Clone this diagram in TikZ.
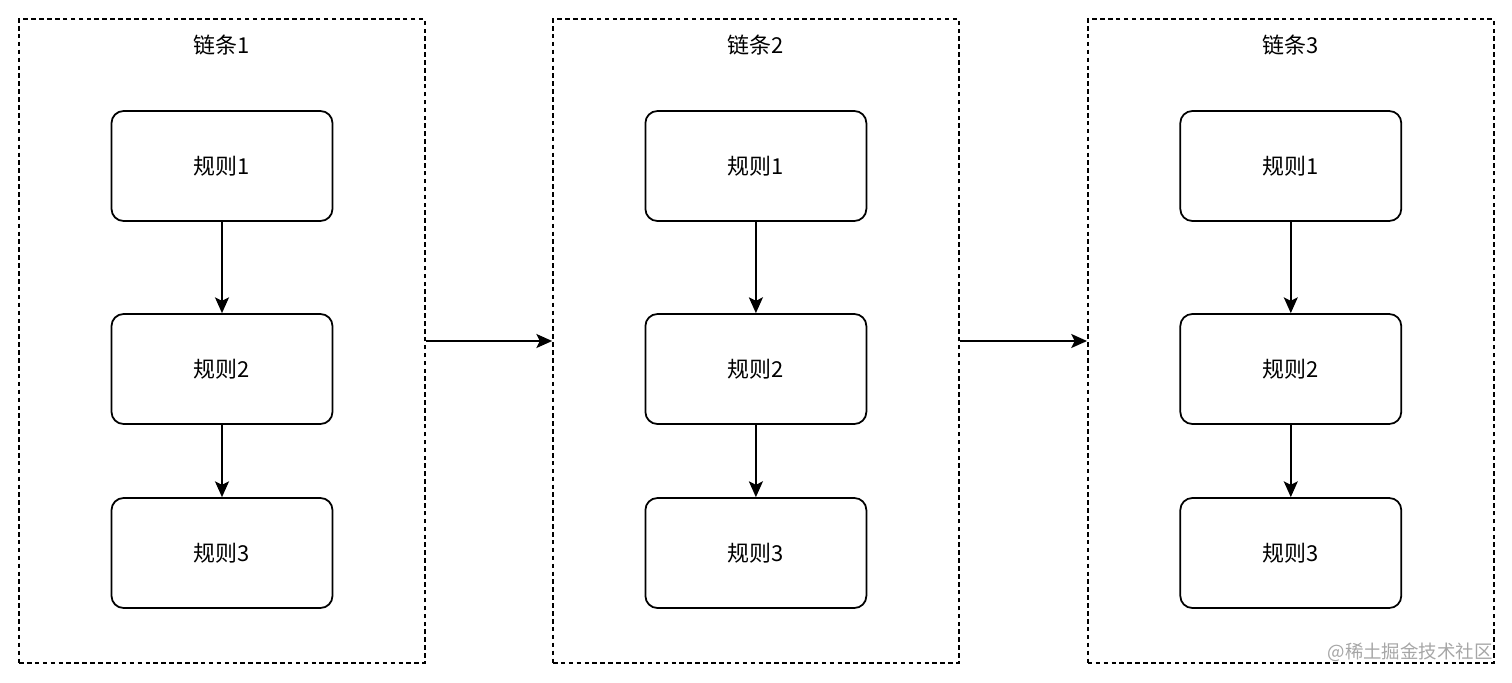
\documentclass[tikz,border=0pt]{standalone}
\usepackage{fontspec}
\setmainfont{Noto Sans CJK SC}
\usetikzlibrary{arrows.meta}

\tikzset{
    chain/.style={draw, line width=0.9pt, dash pattern=on 2.6pt off 1.9pt, minimum width=8.12cm, minimum height=12.88cm, inner sep=0pt},
    rulebox/.style={draw, line width=1pt, rounded corners=0.24cm, minimum width=4.42cm, minimum height=2.2cm, font=\fontsize{12.5}{15}\selectfont},
    title/.style={font=\fontsize{12.5}{15}\selectfont},
    link/.style={line width=0.9pt, -{Stealth[length=9pt, width=8pt, inset=2pt]}}
}

\begin{document}
\begin{tikzpicture}[x=0.02cm, y=-0.02cm]
    \useasboundingbox (0, 0) rectangle (1512, 683);

    % chain 1
    \begin{scope}
        \node[chain] (c1) at (222, 341) {};
        \node[title] (t1) at (222, 45) {链条1};
        \node[rulebox] (c1r1) at (222, 166) {规则1};
        \node[rulebox] (c1r2) at (222, 369) {规则2};
        \node[rulebox] (c1r3) at (222, 553) {规则3};
        \draw[link] (c1r1) -- (c1r2);
        \draw[link] (c1r2) -- (c1r3);
    \end{scope}

    % chain 2
    \begin{scope}[xshift=10.68cm]
        \node[chain] (c2) at (222, 341) {};
        \node[title] (t2) at (222, 45) {链条2};
        \node[rulebox] (c2r1) at (222, 166) {规则1};
        \node[rulebox] (c2r2) at (222, 369) {规则2};
        \node[rulebox] (c2r3) at (222, 553) {规则3};
        \draw[link] (c2r1) -- (c2r2);
        \draw[link] (c2r2) -- (c2r3);
    \end{scope}

    % chain 3
    \begin{scope}[xshift=21.38cm]
        \node[chain] (c3) at (222, 341) {};
        \node[title] (t3) at (222, 45) {链条3};
        \node[rulebox] (c3r1) at (222, 166) {规则1};
        \node[rulebox] (c3r2) at (222, 369) {规则2};
        \node[rulebox] (c3r3) at (222, 553) {规则3};
        \draw[link] (c3r1) -- (c3r2);
        \draw[link] (c3r2) -- (c3r3);
    \end{scope}

    % chain to chain
    \draw[link] (c1) -- (c2);
    \draw[link] (c2) -- (c3);

    \node[anchor=east, text=black!35, inner sep=0pt, font=\fontsize{10.5}{12}\selectfont] (mark) at (1493, 652) {@稀土掘金技术社区};
\end{tikzpicture}
\end{document}
